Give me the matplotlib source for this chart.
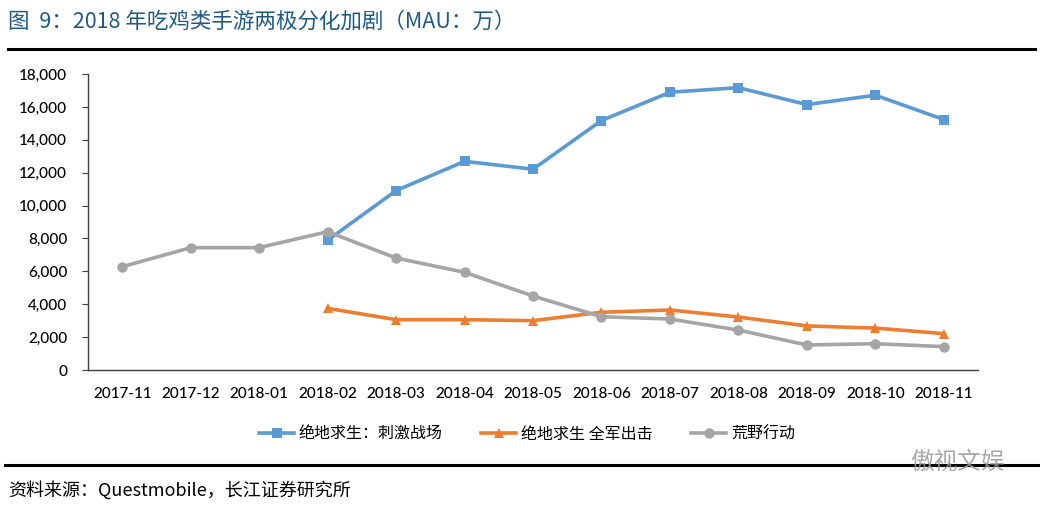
import matplotlib
matplotlib.use("Agg")
import matplotlib.pyplot as plt
from matplotlib.ticker import FuncFormatter, FixedLocator
from matplotlib.lines import Line2D

plt.rcParams['font.family'] = ['Noto Sans CJK SC', 'DejaVu Sans']

months = ["2017-11", "2017-12", "2018-01", "2018-02", "2018-03", "2018-04", "2018-05",
          "2018-06", "2018-07", "2018-08", "2018-09", "2018-10", "2018-11"]
series_names = ["绝地求生：刺激战场", "绝地求生 全军出击", "荒野行动"]
ciji = [None, None, None, 7890, 10910, 12690, 12210, 15170, 16890, 17170, 16140, 16710, 15230]
quanjun = [None, None, None, 3750, 3060, 3060, 3000, 3510, 3650, 3220, 2680, 2550, 2210]
huangye = [6280, 7440, 7440, 8410, 6810, 5940, 4500, 3240, 3100, 2430, 1520, 1600, 1420]
yticks = [0, 2000, 4000, 6000, 8000, 10000, 12000, 14000, 16000, 18000]

colors = ["#5B9BD5", "#ED7D31", "#A5A5A5"]
markers = ["s", "^", "o"]

fig = plt.figure(figsize=(10.4, 5.09), dpi=100)
ax = fig.add_axes([88/1040, 1-370/509, (978-88)/1040, (370-74)/509])

x = list(range(len(months)))
for vals, name, c, m in [(ciji, series_names[0], colors[0], markers[0]),
                         (quanjun, series_names[1], colors[1], markers[1]),
                         (huangye, series_names[2], colors[2], markers[2])]:
    xs = [i for i, v in zip(x, vals) if v is not None]
    ys = [v for v in vals if v is not None]
    ax.plot(xs, ys, color=c, lw=2.6, marker=m, markersize=7.5, markeredgewidth=0, label=name)

ax.set_xlim(-0.5, len(months)-0.5)
ax.set_ylim(0, 18000)
ax.yaxis.set_major_locator(FixedLocator(yticks))
ax.yaxis.set_major_formatter(FuncFormatter(lambda v, p: f"{int(v):,}"))
ax.set_xticks(x)
ax.set_xticklabels(months)
for sp in ["top", "right"]:
    ax.spines[sp].set_visible(False)
for sp in ["left", "bottom"]:
    ax.spines[sp].set_color("#404040")
    ax.spines[sp].set_linewidth(1.0)
ax.tick_params(axis="y", length=4, color="#404040", labelsize=11, pad=11)
ax.tick_params(axis="x", length=0, labelsize=11, pad=12)
for lab in ax.get_xticklabels() + ax.get_yticklabels():
    lab.set_fontfamily(["Lato", "DejaVu Sans"])
    lab.set_fontweight("medium")

handles = [Line2D([], [], color=c, lw=2.6, marker=m, markersize=7.5, markeredgewidth=0)
           for c, m in zip(colors, markers)]
fig.legend(handles, series_names, loc="center", bbox_to_anchor=(527/1040, 1-434/509),
           ncol=3, frameon=False, fontsize=11.5, handlelength=2.2, columnspacing=2.4,
           handletextpad=0.3)

fig.text(8/1040, 1-22/509, "图  9：2018 年吃鸡类手游两极分化加剧（MAU：万）",
         fontsize=15.5, color="#1F5A87", va="center", ha="left")
fig.add_artist(Line2D([8/1040, 1035/1040], [1-49/509, 1-49/509], color="black", lw=2.2))
fig.add_artist(Line2D([5/1040, 1.0], [1-465/509, 1-465/509], color="black", lw=2.2))
fig.text(8/1040, 1-490/509, "资料来源：Questmobile，长江证券研究所",
         fontsize=13, color="black", va="center", ha="left")
fig.text(1005/1040, 1-462/509, "傲视文娱", fontsize=17, color="#9a9a9a",
         va="center", ha="right", alpha=0.85)

fig.savefig("out.png", dpi=100)
